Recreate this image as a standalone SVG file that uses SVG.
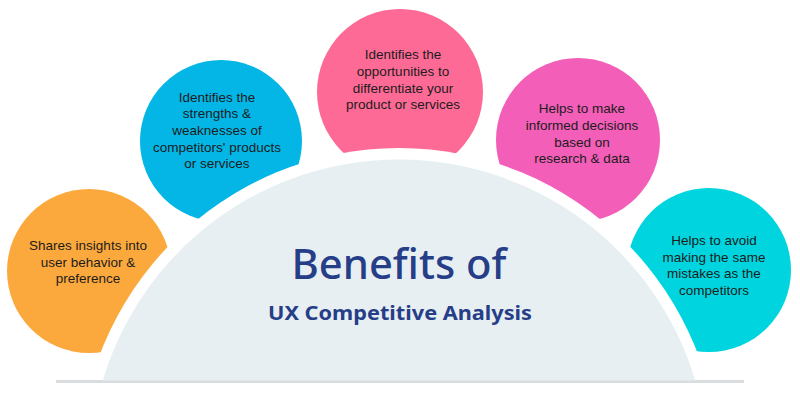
<svg xmlns="http://www.w3.org/2000/svg" width="800" height="400" viewBox="0 0 800 400">
<style>
.b{font-family:"Liberation Sans",Arial,sans-serif;font-size:13.5px;fill:#1c1c1c;text-anchor:middle}
.t{font-family:"Noto Sans","Open Sans","DejaVu Sans",sans-serif;fill:#263e87;text-anchor:middle}
</style>
<rect width="800" height="400" fill="#ffffff"/>
<g id="circles">
<circle id="c-orange" cx="89" cy="271" r="82" fill="#fba93d"/>
<circle id="c-blue" cx="221" cy="141" r="81" fill="#03b6e6"/>
<circle id="c-pink" cx="400" cy="92" r="83" fill="#fe6a96"/>
<circle id="c-magenta" cx="578" cy="140" r="82" fill="#f25eb8"/>
<circle id="c-cyan" cx="709" cy="270" r="82" fill="#00d4de"/>
</g>
<circle id="band" cx="399" cy="468" r="320" fill="#ffffff"/>
<rect id="shadow" x="56" y="380" width="688" height="3" fill="#d9dde0"/>
<g id="dome">
<path d="M102.8 380.5 A309 309 0 0 1 695.2 380.5 Z" fill="#e8eff3"/>
<text class="t" x="399" y="279" font-size="41" font-weight="500" textLength="215" lengthAdjust="spacingAndGlyphs">Benefits of</text>
<text class="t" x="400" y="320" font-size="20" font-weight="700" textLength="264" lengthAdjust="spacingAndGlyphs">UX Competitive Analysis</text>
</g>
<g id="node-orange">
<text class="b" x="88" y="250">Shares insights into</text>
<text class="b" x="88" y="267">user behavior &amp;</text>
<text class="b" x="88" y="283">preference</text>
</g>
<g id="node-blue">
<text class="b" x="217" y="102">Identifies the</text>
<text class="b" x="217" y="118">strengths &amp;</text>
<text class="b" x="217" y="135">weaknesses of</text>
<text class="b" x="217" y="152">competitors' products</text>
<text class="b" x="217" y="168">or services</text>
</g>
<g id="node-pink">
<text class="b" x="403" y="59">Identifies the</text>
<text class="b" x="403" y="76">opportunities to</text>
<text class="b" x="403" y="93">differentiate your</text>
<text class="b" x="403" y="109">product or services</text>
</g>
<g id="node-magenta">
<text class="b" x="582" y="113">Helps to make</text>
<text class="b" x="582" y="130">informed decisions</text>
<text class="b" x="582" y="147">based on</text>
<text class="b" x="582" y="163">research &amp; data</text>
</g>
<g id="node-cyan">
<text class="b" x="714" y="245">Helps to avoid</text>
<text class="b" x="714" y="262">making the same</text>
<text class="b" x="714" y="278">mistakes as the</text>
<text class="b" x="714" y="295">competitors</text>
</g>
</svg>
